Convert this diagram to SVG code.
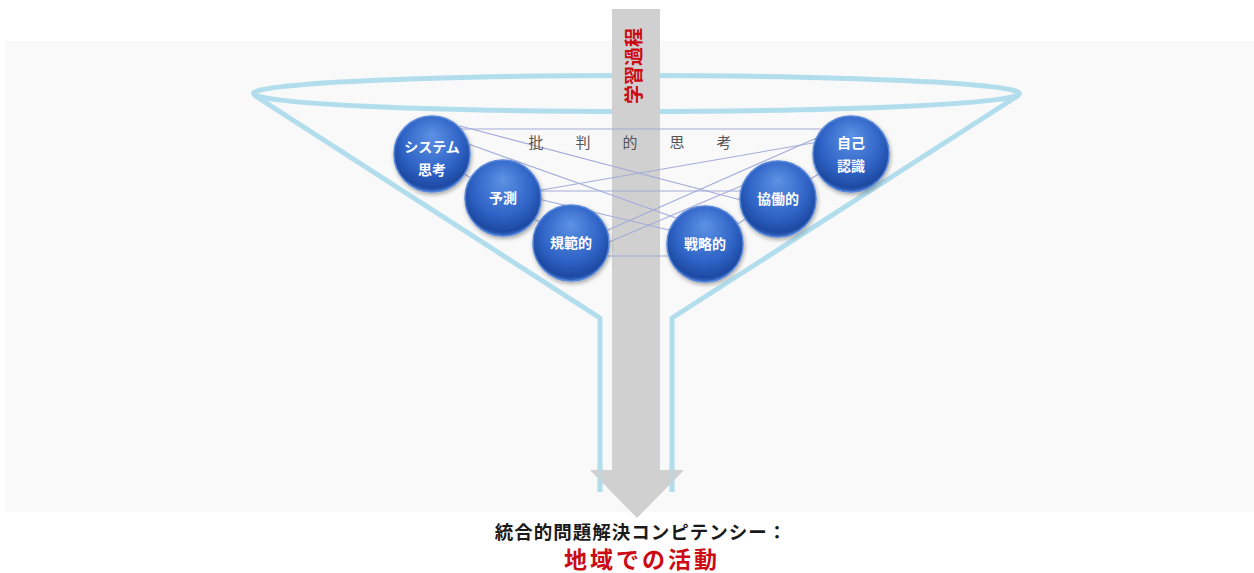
<svg xmlns="http://www.w3.org/2000/svg" width="1254" height="573" viewBox="0 0 1254 573">
  <defs>
    <radialGradient id="ball" cx="50%" cy="40%" r="60%" fx="50%" fy="25%">
      <stop offset="0" stop-color="#5d92e4"/>
      <stop offset="0.65" stop-color="#2f63c6"/>
      <stop offset="0.92" stop-color="#1e4aa2"/>
      <stop offset="1" stop-color="#3a6cc8"/>
    </radialGradient>
    <filter id="shadow" x="-30%" y="-30%" width="160%" height="160%">
      <feGaussianBlur in="SourceAlpha" stdDeviation="2"/>
      <feOffset dx="1" dy="2" result="b"/>
      <feComponentTransfer><feFuncA type="linear" slope="0.35"/></feComponentTransfer>
      <feMerge><feMergeNode/><feMergeNode in="SourceGraphic"/></feMerge>
    </filter>
    <style>
      .panel { fill: #f9f9f9; }
      .funnel { fill: none; stroke: #b2dded; stroke-width: 5; stroke-linejoin: round; }
      .link { stroke: #a3acd8; stroke-width: 1.1; fill: none; }
      .ball { fill: url(#ball); stroke: #5586da; stroke-width: 1.5; filter: url(#shadow); }
      .lbl { font-family: "Noto Sans CJK JP", "Noto Sans", sans-serif; font-weight: bold; font-size: 14px; fill: #ffffff; text-anchor: middle; }
      .crit { font-family: "Noto Sans CJK JP", sans-serif; font-size: 15px; fill: #555555; text-anchor: middle; }
      .out { font-family: "Noto Sans CJK JP", sans-serif; font-weight: bold; text-anchor: middle; }
    </style>
  </defs>

  <!-- background panel -->
  <rect class="panel" x="5" y="41" width="1249" height="471"/>

  <!-- funnel outline -->
  <g id="funnel">
    <ellipse class="funnel" cx="636.5" cy="93.5" rx="383" ry="18"/>
    <polyline class="funnel" points="254,95 600,318 600,492"/>
    <polyline class="funnel" points="1019,95 672,318 672,492"/>
  </g>

  <!-- learning-process arrow -->
  <g id="process-arrow">
    <path d="M612,9 L660,9 L660,470 L684,470 L637,518 L590,470 L612,470 Z" fill="#d0d0d0"/>
    <text transform="translate(641,66) rotate(-90)" font-family="Noto Sans CJK JP, sans-serif" font-weight="bold" font-size="19" fill="#cc0a14" text-anchor="middle">学習過程</text>
  </g>
  <!-- neck walls showing faintly through the arrow head -->
  <g opacity="0.35">
    <line class="funnel" x1="600" y1="470" x2="600" y2="492"/>
    <line class="funnel" x1="672" y1="470" x2="672" y2="492"/>
  </g>

  <!-- connectors between competencies -->
  <g id="connectors">
    <line class="link" x1="432" y1="154" x2="503" y2="198"/>
    <line class="link" x1="503" y1="198" x2="571" y2="243"/>
    <line class="link" x1="705" y1="244" x2="778" y2="199"/>
    <line class="link" x1="778" y1="199" x2="851" y2="154"/>
    <line class="link" x1="460" y1="129" x2="830" y2="129"/>
    <line class="link" x1="460" y1="126" x2="760" y2="205"/>
    <line class="link" x1="460" y1="141" x2="690" y2="223"/>
    <line class="link" x1="530" y1="192" x2="830" y2="140"/>
    <line class="link" x1="530" y1="191" x2="760" y2="191"/>
    <line class="link" x1="530" y1="197" x2="690" y2="235"/>
    <line class="link" x1="590" y1="238" x2="830" y2="132"/>
    <line class="link" x1="590" y1="250" x2="760" y2="178"/>
    <line class="link" x1="590" y1="256" x2="690" y2="256"/>
  </g>

  <text class="crit" x="536" y="148">批</text>
  <text class="crit" x="583" y="148">判</text>
  <text class="crit" x="630" y="148">的</text>
  <text class="crit" x="677" y="148">思</text>
  <text class="crit" x="724" y="148">考</text>

  <g id="node-system">
    <circle class="ball" cx="432" cy="154" r="38"/>
    <text class="lbl" x="432" y="152" font-size="15">システム</text>
    <text class="lbl" x="432" y="175">思考</text>
  </g>
  <g id="node-yosoku">
    <circle class="ball" cx="503" cy="198" r="38"/>
    <text class="lbl" x="503" y="203">予測</text>
  </g>
  <g id="node-kihan">
    <circle class="ball" cx="571" cy="243" r="38"/>
    <text class="lbl" x="571" y="248">規範的</text>
  </g>
  <g id="node-senryaku">
    <circle class="ball" cx="705" cy="244" r="38"/>
    <text class="lbl" x="705" y="249">戦略的</text>
  </g>
  <g id="node-kyodo">
    <circle class="ball" cx="778" cy="199" r="38"/>
    <text class="lbl" x="778" y="204">協働的</text>
  </g>
  <g id="node-jiko">
    <circle class="ball" cx="851" cy="154" r="38"/>
    <text class="lbl" x="851" y="148">自己</text>
    <text class="lbl" x="851" y="171">認識</text>
  </g>

  <!-- outcome -->
  <g id="outcome">
    <text class="out" x="641" y="539" font-size="18.5" fill="#1a1a1a" letter-spacing="1">統合的問題解決コンピテンシー：</text>
    <text class="out" x="642" y="568" font-size="23" fill="#cc0a14" letter-spacing="3">地域での活動</text>
  </g>
</svg>
